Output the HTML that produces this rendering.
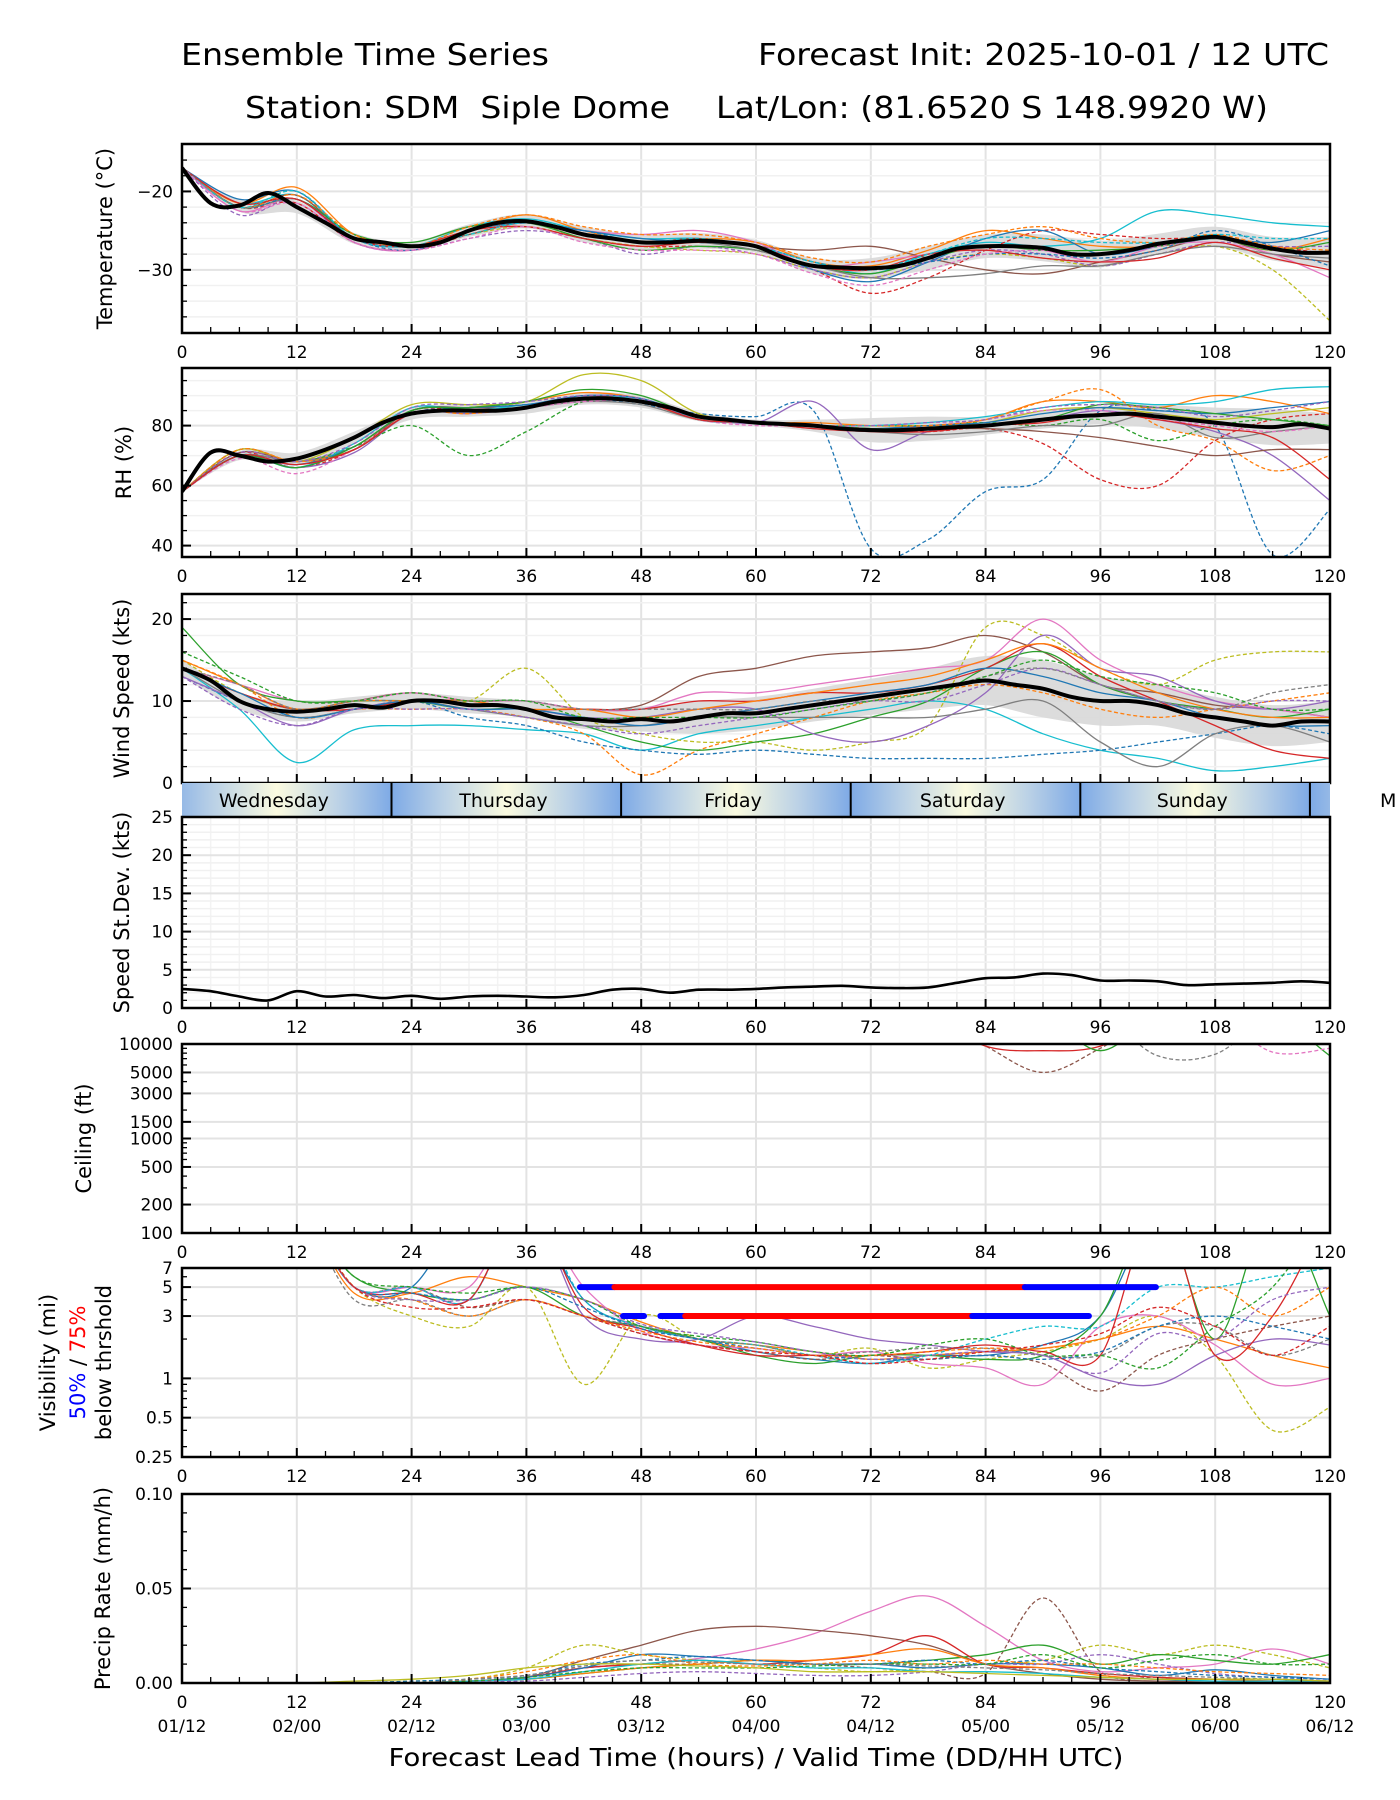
<!DOCTYPE html>
<html><head><meta charset="utf-8"><title>Ensemble Time Series SDM</title>
<style>
html,body{margin:0;padding:0;background:#fff;}
svg{display:block;font-family:"DejaVu Sans","Liberation Sans",sans-serif;}
</style></head>
<body>
<svg id="chart" xmlns="http://www.w3.org/2000/svg" width="1400" height="1800" viewBox="0 0 1400 1800">
<defs>
<linearGradient id="dayGrad" x1="0" x2="1" y1="0" y2="0">
<stop offset="0" stop-color="#7eaae6"/><stop offset="0.22" stop-color="#b9d0e6"/><stop offset="0.5" stop-color="#fbfbe0"/><stop offset="0.78" stop-color="#b9d0e6"/><stop offset="1" stop-color="#7eaae6"/>
</linearGradient>
</defs>
<text x="181" y="65" font-size="30" textLength="368" lengthAdjust="spacingAndGlyphs">Ensemble Time Series</text>
<text x="758" y="65" font-size="30" textLength="571" lengthAdjust="spacingAndGlyphs">Forecast Init: 2025-10-01 / 12 UTC</text>
<text x="245" y="118" font-size="30" textLength="425" lengthAdjust="spacingAndGlyphs" xml:space="preserve">Station: SDM  Siple Dome</text>
<text x="716" y="118" font-size="30" textLength="552" lengthAdjust="spacingAndGlyphs">Lat/Lon: (81.6520 S 148.9920 W)</text>
<text x="756" y="1766" font-size="25" text-anchor="middle" textLength="735" lengthAdjust="spacingAndGlyphs">Forecast Lead Time (hours) / Valid Time (DD/HH UTC)</text>
<g id="plots"></g>
</svg>
<script>
// ---------- DATA ----------
const hours3 = [0,3,6,9,12,15,18,21,24,27,30,33,36,39,42,45,48,51,54,57,60,63,66,69,72,75,78,81,84,87,90,93,96,99,102,105,108,111,114,117,120];
const hours6 = [0,6,12,18,24,30,36,42,48,54,60,66,72,78,84,90,96,102,108,114,120];
const xTickLabels = ['0','12','24','36','48','60','72','84','96','108','120'];
const dateLabels = ['01/12','02/00','02/12','03/00','03/12','04/00','04/12','05/00','05/12','06/00','06/12'];
const dayNames = ['Wednesday','Thursday','Friday','Saturday','Sunday','M'];
const dayBoundaries = [21.9,45.9,69.9,93.9,117.9];

const tempMean = [-17,-21.5,-21.8,-20.2,-22,-24,-26,-26.5,-27,-26.5,-25,-24,-23.8,-24.5,-25.5,-26,-26.5,-26.5,-26.3,-26.5,-27,-28.5,-29.5,-29.7,-29.8,-29.5,-28.5,-27.3,-27,-27,-27.2,-28,-28,-27.5,-26.7,-26.2,-25.8,-26.5,-27.3,-27.8,-27.8];
const tempSpread = [0,0.8,0.8,0.7,0.6,0.8,0.9,1,1,1,0.8,1,1.3,1.5,1.5,1.7,1.7,1.3,1.3,1.5,2];
const tempMembers = [
[-17,-21.5,-20.5,-26,-27,-24.5,-23.5,-25,-26,-26,-27,-29,-30.5,-28,-26.5,-27,-26,-22.5,-23,-24,-24.5],
[-17,-22,-21.5,-26.5,-27.5,-25.5,-24,-26,-27,-27,-27.5,-30,-33,-31,-27.5,-25,-25.5,-26,-26,-27,-28],
[-17,-21.5,-19.5,-25.5,-27,-25,-23,-25,-26.5,-26,-26.5,-29,-29.5,-27.5,-25,-26,-27,-27,-26,-27.5,-26],
[-17,-22,-20.5,-26,-27,-25.5,-24,-25.5,-26.5,-26,-27,-27.5,-27,-28.5,-30,-30.5,-29,-27.5,-26,-28,-29],
[-17,-22.5,-21,-26.5,-27.5,-25,-24,-25,-25.5,-25,-26.5,-29.5,-29,-28,-27,-27.5,-29,-27,-26.5,-28,-31],
[-17,-22,-20,-26,-27,-25.5,-24.5,-26,-27,-27.5,-28,-30,-31,-29,-28,-28.5,-29.5,-28,-27,-30,-36.5],
[-17,-21,-20,-26,-27,-25,-24,-25,-26,-26.5,-27,-30,-31.5,-29,-26,-25,-28,-27,-26,-26.5,-25],
[-17,-23,-21,-26.5,-27.5,-26,-25,-26,-28,-27,-28,-30,-31,-29,-27.5,-28,-29.5,-28,-26.5,-27,-27],
[-17,-22,-21,-25.5,-26.5,-24.5,-24,-26,-27.5,-27,-27.5,-29.5,-30.5,-28.5,-27,-27.5,-27.5,-27,-26,-27.5,-26.5],
[-17,-22,-21,-26,-27,-25,-24,-25.5,-26.5,-26.5,-27.5,-29.5,-31,-31,-30.5,-29.5,-29.5,-28,-27,-28,-28.5],
[-17,-22,-21,-26,-27.5,-25,-24,-25,-26.5,-26.5,-27,-29,-30,-29,-28,-28,-28.5,-27.5,-25,-27,-29.5],
[-17,-22,-20.5,-25.5,-27,-24.5,-23,-24.5,-25.5,-25.5,-26.5,-28.5,-29,-27,-25.5,-24.5,-26,-26.5,-25.5,-27,-27.5],
[-17,-21.5,-21,-26,-27,-25,-24.5,-26,-27,-26.5,-27,-29.5,-30,-28,-27.5,-28.5,-29,-28.5,-26.5,-28.5,-30],
[-17,-22,-20,-26,-27,-25.5,-24,-25.5,-26.5,-26,-27,-29,-30,-28,-26,-26,-26.5,-26.5,-25.5,-26,-26],
[-17,-22.5,-21.5,-26.5,-27.5,-26,-24.5,-26.5,-27.5,-27.5,-28,-30.5,-32,-30,-28,-27.5,-28,-27,-26,-27.5,-28]
];
const tempColors = ['#17becf','#d62728','#ff7f0e','#8c564b','#e377c2','#bcbd22','#1f77b4','#9467bd','#2ca02c','#7f7f7f','#1f77b4','#ff7f0e','#d62728','#17becf','#e377c2'];
const tempDashed = [false,true,false,false,false,true,false,true,false,false,true,true,false,true,true];

const rhMean = [58,71,70,68,69,72,76,81,84,85,85,85,86,88,89,89,88,86,83,82,81,80.5,80,79,78.5,78.5,79,79.5,80,81,82,83,83.5,84,83,82,81,80,79.5,80.5,79];
const rhSpread = [0,1.5,2,2,2,2,2,2,2,1.5,1,2,4,4,3,3,3,4,5,6,5];
const rhMembers = [
[58,70,68,72,84,86,87,89,87,84,83,85,39,42,58,62,85,85,80,37,52],
[58,71,66,72,85,85,86,89,88,82,81,80,79,78,79,74,62,60,75,82,84],
[58,72,68,73,85,86,88,91,89,83,81,81,80,80,82,88,88,86,90,88,84],
[58,70,66,71,84,84,86,90,88,83,81,88,72,78,80,82,85,82,78,70,55],
[58,72,68,76,87,87,88,97,95,84,81,80,80,80,81,85,86,84,82,84,86],
[58,72,68,73,80,70,78,88,88,82,81,80,80,80,81,80,82,75,80,82,80],
[58,71,68,72,85,86,86,90,88,83,81,80,79,79,79,78,76,73,70,72,72],
[58,70,66,74,86,85,87,89,89,82,81,80,80,81,83,86,88,87,88,92,93],
[58,70,68,72,84,85,86,88,87,82,81,79,78,77,78,80,80,84,76,78,80],
[58,69,64,72,84,85,86,88,88,82,80,80,79,80,82,85,85,82,80,78,80],
[58,70,67,73,85,86,87,90,89,83,81,80,79,80,81,84,86,85,84,86,88],
[58,72,68,72,84,84,86,89,88,82,81,80,80,80,82,88,92,80,75,65,70],
[58,70,66,73,85,86,88,92,90,83,81,80,79,79,80,82,87,86,84,82,80],
[58,71,68,74,86,87,88,90,89,82,81,80,80,81,82,86,87,86,83,85,88],
[58,70,67,72,84,85,86,89,88,82,81,79,78,78,80,81,84,82,79,76,62]
];
const rhColors = ['#1f77b4','#d62728','#ff7f0e','#9467bd','#bcbd22','#2ca02c','#8c564b','#17becf','#7f7f7f','#e377c2','#1f77b4','#ff7f0e','#2ca02c','#9467bd','#d62728'];
const rhDashed = [true,true,false,false,false,true,false,false,false,true,false,true,false,true,false];

const windMean = [14,12.5,10,9,8.7,9,9.5,9.2,10,10,9.5,9.5,9,8,7.8,7.5,7.8,7.5,8,8.5,8.5,9,9.5,10,10.5,11,11.5,12,12.5,12,11.5,10.5,10,10,9.5,8.5,8,7.5,7,7.5,7.5];
const windSpread = [1,1,1.2,1,1,1,1,1.2,1.5,2,2,2,2.2,2.5,3,3.5,3,2.5,2.5,2.5,2.5];
const windMembers = [
[14,9,2.5,6.5,7,7,6.5,6,4,6,7,8,9,10,9,6,4,3,1.5,2,3],
[14,11,9,10,11,10,10,9,9.5,13,14,15.5,16,16.5,18,16,12,11,9.5,9,8],
[15,11,9,9,10,10,14,8,6,5,5,4,5,7,19,18,14,12,15,16,16],
[13,10,8,9,10,8,7,5,4,3.5,4,3.5,3,3,3,3.5,4,5,6,7,6],
[14,12,10,10,11,10,10,9,9,11,11,12,13,14,15,20,15,12,10,9,8],
[15,12,8,9,9,9,8,6,1,4,6,8,10,11,12,11,9,8,9,10,11],
[19,12,10,10,10,9,9,7,5,4,5,6,8,10,14,16,12,10,9,8,9],
[13,10,7,9,10,9,9,8,8,9,9,6,5,7,11,18,14,13,10,9,10],
[14,10,8,9,10,9,8,7,7,8,8,8,8,8,9,10,5,2,6,7,5],
[14,11,9,9,10,10,9,9,9,10,10,11,11,12,14,17,13,10,7,4,3],
[14,11,8,9,10,9,9,8,7,8,9,10,11,12,14,13,11,10,8,7,7],
[15,12,9,10,10,10,9,9,8,9,10,11,12,13,15,17,14,11,9,8,8],
[13,9,7,9,9,9,8,7,6,7,8,9,10,10,12,14,12,10,9,10,10],
[14,12,9,10,10,10,10,9,9,9,9,10,10,11,13,14,12,10,9,11,12],
[16,13,10,10,11,10,10,8,8,8,8,9,10,11,13,15,13,12,11,9,9]
];
const windColors = ['#17becf','#8c564b','#bcbd22','#1f77b4','#e377c2','#ff7f0e','#2ca02c','#9467bd','#7f7f7f','#d62728','#1f77b4','#ff7f0e','#9467bd','#7f7f7f','#2ca02c'];
const windDashed = [false,false,true,true,false,true,false,false,false,false,false,false,true,true,true];

const sdValues = [2.5,2.2,1.5,1.0,2.2,1.5,1.7,1.3,1.6,1.2,1.5,1.6,1.5,1.4,1.7,2.4,2.5,2.0,2.4,2.4,2.5,2.7,2.8,2.9,2.7,2.6,2.7,3.3,3.9,4.0,4.5,4.3,3.6,3.6,3.5,3.0,3.1,3.2,3.3,3.5,3.3];

const ceilMembers = [
[20000,20000,20000,20000,20000,20000,20000,20000,20000,20000,20000,20000,20000,20000,9500,5000,9000,20000,20000,20000,20000],
[20000,20000,20000,20000,20000,20000,20000,20000,20000,20000,20000,20000,20000,20000,9500,8500,9500,20000,20000,20000,20000],
[20000,20000,20000,20000,20000,20000,20000,20000,20000,20000,20000,20000,20000,20000,20000,20000,8500,20000,20000,20000,7500],
[20000,20000,20000,20000,20000,20000,20000,20000,20000,20000,20000,20000,20000,20000,20000,20000,20000,7500,7800,20000,20000],
[20000,20000,20000,20000,20000,20000,20000,20000,20000,20000,20000,20000,20000,20000,20000,20000,20000,20000,20000,8200,9000]
];
const ceilColors = ['#8c564b','#d62728','#2ca02c','#7f7f7f','#e377c2'];
const ceilDashed = [true,false,false,true,true];
const ceilTicks = [100,200,500,1000,1500,3000,5000,10000];

const visMembers = [
[20,20,20,5,5,20,20,4,2.5,2,1.6,1.4,1.3,1.5,1.5,1.8,3,20,20,20,20],
[20,20,20,4.5,4.5,6,5,4,2.7,2,1.8,1.6,1.4,1.5,1.6,1.7,2,2.5,2,1.5,1.2],
[20,20,20,5,3,2.5,5,0.9,3,2,1.8,1.5,1.7,1.2,1.4,1.6,2,3,1.5,0.4,0.6],
[20,20,20,5,5,5,20,5,2.3,1.8,1.7,1.5,1.6,1.3,1.2,0.9,2.5,3,1.8,0.9,1],
[20,20,20,6,4.5,4,5,3,2.5,2,1.5,1.3,1.5,1.5,1.4,1.5,3,20,2,20,3],
[20,20,20,5,5,3.5,4,3,2.2,1.8,1.6,1.4,1.5,1.4,1.5,1.3,0.8,1.5,2,2.5,3],
[20,20,20,5,5,4,20,3,2,2,3,2.5,2,1.8,1.6,1.5,1,0.9,1.5,2,1.8],
[20,20,20,5,5,4,20,4,2.5,2,1.8,1.5,1.3,1.5,2,2.5,2.5,5,5,6,7],
[20,20,20,4,4,3,4,3,2.5,2,1.8,1.5,1.6,1.7,1.7,1.5,1.5,2.5,2.5,1.5,2],
[20,20,20,5,4.5,4,20,3.5,2.4,1.8,1.5,1.5,1.5,1.6,1.8,1.6,1.5,20,1.5,3,20],
[20,20,20,5,4.5,4,5,3.5,2.4,2,1.7,1.5,1.4,1.4,1.5,1.4,1.6,2.5,3,2.5,2],
[20,20,20,5,4,3,4,3,2.3,1.9,1.7,1.5,1.5,1.6,1.7,1.7,2,3,5,3,5],
[20,20,20,6,5,4.5,5,4,2.5,2.1,1.9,1.6,1.5,1.8,2,1.5,1.5,1.2,2.5,5,20],
[20,20,20,5,4,4,5,4,2.6,2.2,1.9,1.6,1.4,1.5,1.6,1.5,1.1,2.2,2,4,5],
[20,20,20,5,3.5,3.5,4,3,2.2,1.8,1.6,1.5,1.3,1.4,1.6,1.8,2.2,3.5,2.5,1.5,2.5]
];
const visColors = ['#1f77b4','#ff7f0e','#bcbd22','#e377c2','#2ca02c','#8c564b','#9467bd','#17becf','#7f7f7f','#d62728','#1f77b4','#ff7f0e','#2ca02c','#9467bd','#d62728'];
const visDashed = [false,false,true,false,false,true,false,true,true,false,true,true,true,true,true];
const visTicks = [0.25,0.5,1,3,5,7];
const visThr5Start = [41.6,45.2,88.1];
const visThr5End = [45.2,88.1,101.8];
const visThr5Color = ['#0000ff','#ff0000','#0000ff'];
const visThr3Start = [46.1,50.0,52.6,82.6];
const visThr3End = [48.3,52.6,82.6,94.8];
const visThr3Color = ['#0000ff','#0000ff','#ff0000','#0000ff'];

const precipMembers = [
[0,0,0,0,0,0.001,0.003,0.008,0.01,0.013,0.018,0.026,0.038,0.046,0.03,0.012,0.006,0.008,0.01,0.018,0.01],
[0,0,0,0,0,0.002,0.004,0.008,0.01,0.01,0.012,0.01,0.008,0.006,0.005,0.045,0.006,0.003,0.002,0.002,0.001],
[0,0,0,0,0,0.001,0.003,0.012,0.02,0.028,0.03,0.028,0.025,0.02,0.01,0.005,0.002,0.001,0.001,0,0],
[0,0,0,0,0.001,0.002,0.008,0.02,0.015,0.012,0.01,0.008,0.006,0.008,0.01,0.012,0.02,0.015,0.02,0.015,0.008],
[0,0,0,0,0,0.001,0.002,0.005,0.008,0.01,0.012,0.01,0.01,0.012,0.015,0.02,0.01,0.015,0.012,0.01,0.015],
[0,0,0,0,0,0.001,0.003,0.008,0.01,0.012,0.01,0.012,0.015,0.025,0.01,0.008,0.005,0.003,0.002,0.001,0.001],
[0,0,0,0,0,0.001,0.003,0.008,0.015,0.014,0.012,0.01,0.01,0.008,0.01,0.01,0.008,0.004,0.007,0.004,0.002],
[0,0,0,0,0,0.001,0.002,0.005,0.008,0.01,0.012,0.012,0.015,0.018,0.01,0.008,0.004,0.002,0.002,0.001,0.001],
[0,0,0,0,0,0.001,0.002,0.006,0.01,0.012,0.01,0.008,0.008,0.006,0.006,0.005,0.003,0.002,0.001,0.001,0.001],
[0,0,0,0,0,0.001,0.001,0.003,0.005,0.006,0.005,0.004,0.004,0.006,0.01,0.01,0.015,0.01,0.005,0.003,0.002],
[0,0,0,0,0.001,0.002,0.004,0.01,0.012,0.014,0.012,0.01,0.01,0.012,0.01,0.012,0.008,0.006,0.004,0.003,0.002],
[0,0,0,0,0,0.002,0.006,0.012,0.015,0.01,0.009,0.01,0.012,0.01,0.012,0.01,0.01,0.008,0.006,0.005,0.004],
[0,0,0,0,0,0.001,0.003,0.006,0.008,0.008,0.008,0.009,0.01,0.01,0.01,0.015,0.008,0.012,0.015,0.01,0.01],
[0,0,0,0,0,0.002,0.004,0.009,0.012,0.011,0.01,0.01,0.01,0.009,0.008,0.007,0.005,0.004,0.003,0.002,0.001],
[0,0,0,0.001,0.002,0.004,0.008,0.01,0.01,0.009,0.008,0.006,0.006,0.006,0.005,0.004,0.003,0.002,0.002,0.002,0.001]
];
const precipColors = ['#e377c2','#8c564b','#8c564b','#bcbd22','#2ca02c','#d62728','#1f77b4','#ff7f0e','#17becf','#9467bd','#1f77b4','#ff7f0e','#2ca02c','#7f7f7f','#bcbd22'];
const precipDashed = [false,true,false,true,false,false,false,false,false,true,true,true,true,true,false];

// ---------- LAYOUT ----------
const NS = 'http://www.w3.org/2000/svg';
const X0 = 182, X1 = 1330;
const xScale = h => X0 + (X1 - X0) * h / 120;
const root = document.getElementById('plots');

function el(tag, attrs, parent) {
  const e = document.createElementNS(NS, tag);
  for (const k in attrs) e.setAttribute(k, attrs[k]);
  (parent || root).appendChild(e);
  return e;
}
function smoothPath(pts) {
  if (pts.length < 2) return '';
  let d = 'M' + pts[0][0].toFixed(1) + ',' + pts[0][1].toFixed(1);
  for (let i = 0; i < pts.length - 1; i++) {
    const p0 = pts[i - 1] || pts[i], p1 = pts[i], p2 = pts[i + 1], p3 = pts[i + 2] || p2;
    const c1x = p1[0] + (p2[0] - p0[0]) / 6, c1y = p1[1] + (p2[1] - p0[1]) / 6;
    const c2x = p2[0] - (p3[0] - p1[0]) / 6, c2y = p2[1] - (p3[1] - p1[1]) / 6;
    d += 'C' + c1x.toFixed(1) + ',' + c1y.toFixed(1) + ' ' + c2x.toFixed(1) + ',' + c2y.toFixed(1) + ' ' + p2[0].toFixed(1) + ',' + p2[1].toFixed(1);
  }
  return d;
}
function makePanel(id, top, bot, min, max, log) {
  const p = {id, top, bot, min, max, log};
  p.y = v => {
    if (log) {
      const a = Math.log10(min), b = Math.log10(max);
      return bot - (Math.log10(v) - a) / (b - a) * (bot - top);
    }
    return bot - (v - min) / (max - min) * (bot - top);
  };
  const cp = el('clipPath', {id: 'clip-' + id});
  el('rect', {x: X0, y: top, width: X1 - X0, height: bot - top}, cp);
  p.g = el('g', {'clip-path': 'url(#clip-' + id + ')'});
  
  
  return p;
}
function grid(p, yMajor, yMinor) {
  for (let h = 0; h <= 120; h += 12) {
    const l = el('line', {x1: xScale(h), x2: xScale(h), y1: p.top, y2: p.bot, stroke: '#e3e3e3', 'stroke-width': 2}, p.g);
    
    
  }
  (yMinor || []).forEach(v => {
    const l = el('line', {x1: X0, x2: X1, y1: p.y(v), y2: p.y(v), stroke: '#f1f1f1', 'stroke-width': 1.5}, p.g);
    
    
  });
  yMajor.forEach(v => {
    const l = el('line', {x1: X0, x2: X1, y1: p.y(v), y2: p.y(v), stroke: '#e3e3e3', 'stroke-width': 2}, p.g);
    
    
  });
}
function frame(p, yTicks, yLabels, yMinorTicks, xLabels) {
  const f = el('rect', {x: X0, y: p.top, width: X1 - X0, height: p.bot - p.top, fill: 'none', stroke: '#000', 'stroke-width': 2.5});
  
  
  for (let h = 0; h <= 120; h += 3) {
    const major = h % 12 === 0;
    const t = el('line', {x1: xScale(h), x2: xScale(h), y1: p.bot, y2: p.bot - (major ? 9 : 6), stroke: '#000', 'stroke-width': major ? 2 : 1.3});
    
    
  }
  if (xLabels) {
    xTickLabels.forEach((s, i) => {
      const t = el('text', {x: xScale(i * 12), y: p.bot + 25, 'font-size': 17, 'text-anchor': 'middle'});
      t.textContent = s;
      
      
    });
  }
  (yMinorTicks || []).forEach(v => {
    const t = el('line', {x1: X0, x2: X0 + 5, y1: p.y(v), y2: p.y(v), stroke: '#000', 'stroke-width': 1.3});
    
    
  });
  yTicks.forEach((v, i) => {
    const t = el('line', {x1: X0, x2: X0 + 9, y1: p.y(v), y2: p.y(v), stroke: '#000', 'stroke-width': 2});
    
    
    const lbl = el('text', {x: X0 - 9, y: p.y(v) + 6, 'font-size': 17, 'text-anchor': 'end'});
    lbl.textContent = yLabels[i];
    
    
  });
}
function yTitle(text, x, p, name) {
  const cy = (p.top + p.bot) / 2;
  const t = el('text', {x: x, y: cy, 'font-size': 21, 'text-anchor': 'middle', transform: 'rotate(-90 ' + x + ' ' + cy + ')', 'dominant-baseline': 'middle'});
  t.textContent = text;
  
  
  return t;
}
function drawMembers(p, members, colors, dashed, hrs, nameBase) {
  members.forEach((m, i) => {
    const pts = m.map((v, j) => [xScale(hrs[j]), p.y(v)]);
    const path = el('path', {d: smoothPath(pts), fill: 'none', stroke: colors[i % colors.length], 'stroke-width': 1.3, 'stroke-dasharray': dashed[i % dashed.length] ? '4,2.5' : 'none'}, p.g);
    
    
  });
}
function drawBand(p, mean3, spread6) {
  const upper = [], lower = [];
  hours6.forEach((h, j) => {
    const m = mean3[j * 2];
    upper.push([xScale(h), p.y(m + spread6[j])]);
    lower.push([xScale(h), p.y(m - spread6[j])]);
  });
  const d = smoothPath(upper) + 'L' + smoothPath(lower.slice().reverse()).slice(1) + 'Z';
  const b = el('path', {d: d, fill: '#d8d8d8', stroke: 'none', opacity: 0.9}, p.g);
  
  
}
function drawMean(p, mean3, width) {
  const pts = mean3.map((v, j) => [xScale(hours3[j]), p.y(v)]);
  const m = el('path', {d: smoothPath(pts), fill: 'none', stroke: '#000', 'stroke-width': width, 'stroke-linejoin': 'round'}, p.g);
  
  
}
function range(a, b, s) { const r = []; for (let v = a; v <= b + 1e-9; v += s) r.push(+v.toFixed(4)); return r; }

// ---------- TEMPERATURE ----------
const pT = makePanel('temperature', 144, 333, -38.06, -13.95, false);
grid(pT, [-20, -30], range(-36, -14, 2));
drawBand(pT, tempMean, tempSpread);
drawMembers(pT, tempMembers, tempColors, tempDashed, hours6, 'temperature');
drawMean(pT, tempMean, 4);
frame(pT, [-20, -30], ['\u221220', '\u221230'], range(-36, -16, 2), true);
yTitle('Temperature (\u00b0C)', 106, pT, 'temperature-axis-title');

// ---------- RH ----------
const pR = makePanel('rh', 368, 557, 36.2, 99.2, false);
grid(pR, [40, 60, 80], range(40, 95, 5));
drawBand(pR, rhMean, rhSpread);
drawMembers(pR, rhMembers, rhColors, rhDashed, hours6, 'rh');
drawMean(pR, rhMean, 4);
frame(pR, [40, 60, 80], ['40', '60', '80'], range(40, 95, 5), true);
yTitle('RH (%)', 125, pR, 'rh-axis-title');

// ---------- WIND ----------
const pW = makePanel('wind', 594, 783, 0, 23.06, false);
grid(pW, [0, 10, 20], range(2, 22, 2));
drawBand(pW, windMean, windSpread);
drawMembers(pW, windMembers, windColors, windDashed, hours6, 'wind');
drawMean(pW, windMean, 4);
frame(pW, [0, 10, 20], ['0', '10', '20'], range(2, 22, 2), false);
yTitle('Wind Speed (kts)', 123, pW, 'wind-axis-title');

// ---------- DAY BAR ----------
(function () {
  const top = 783, bot = 817;
  const cp = el('clipPath', {id: 'clip-daybar'});
  el('rect', {x: X0, y: top, width: X1 - X0, height: bot - top}, cp);
  const g = el('g', {'clip-path': 'url(#clip-daybar)'});
  
  
  const starts = [dayBoundaries[0] - 24].concat(dayBoundaries);
  starts.forEach((s, i) => {
    const r = el('rect', {x: xScale(s), y: top, width: xScale(s + 24) - xScale(s), height: bot - top, fill: 'url(#dayGrad)'}, g);
    
    
  });
  dayBoundaries.forEach(b => {
    const l = el('line', {x1: xScale(b), x2: xScale(b), y1: top, y2: bot, stroke: '#000', 'stroke-width': 2}, g);
    
    
  });
  dayNames.forEach((n, i) => {
    const c = starts[i] + 12 - 0.3;
    const t = el('text', {x: xScale(c), y: 807, 'font-size': 19, 'text-anchor': i === dayNames.length - 1 ? 'start' : 'middle'});
    if (i === dayNames.length - 1) t.setAttribute('x', 1380);
    t.textContent = n;
    
    
  });
})();

// ---------- SPEED ST DEV ----------
const pS = makePanel('speed-stdev', 817, 1008, 0, 25, false);
for (let h = 3; h < 120; h += 3) {
  const l = el('line', {x1: xScale(h), x2: xScale(h), y1: pS.top, y2: pS.bot, stroke: '#f3f3f3', 'stroke-width': 1.5}, pS.g);
  
  
}
grid(pS, [0, 5, 10, 15, 20, 25], range(1, 24, 1));
drawMean(pS, sdValues, 2.6);
frame(pS, [0, 5, 10, 15, 20, 25], ['0', '5', '10', '15', '20', '25'], range(1, 24, 1), true);
yTitle('Speed St.Dev. (kts)', 123, pS, 'stdev-axis-title');

// ---------- CEILING ----------
const pC = makePanel('ceiling', 1044, 1233, 100, 10000, true);
grid(pC, ceilTicks, []);
drawMembers(pC, ceilMembers, ceilColors, ceilDashed, hours6, 'ceiling');
const ceilMinor = [];
[100, 1000].forEach(d => { for (let k = 2; k <= 9; k++) ceilMinor.push(d * k); });
frame(pC, ceilTicks, ceilTicks.map(String), ceilMinor, true);
yTitle('Ceiling (ft)', 85, pC, 'ceiling-axis-title');

// ---------- VISIBILITY ----------
const pV = makePanel('visibility', 1268, 1457, 0.25, 7, true);
grid(pV, visTicks, []);
drawMembers(pV, visMembers, visColors, visDashed, hours6, 'visibility');
visThr5Start.forEach((s, i) => {
  const l = el('line', {x1: xScale(s), x2: xScale(visThr5End[i]), y1: pV.y(5), y2: pV.y(5), stroke: visThr5Color[i], 'stroke-width': 6, 'stroke-linecap': 'round'}, pV.g);
  
  
});
visThr3Start.forEach((s, i) => {
  const l = el('line', {x1: xScale(s), x2: xScale(visThr3End[i]), y1: pV.y(3), y2: pV.y(3), stroke: visThr3Color[i], 'stroke-width': 6, 'stroke-linecap': 'round'}, pV.g);
  
  
});
frame(pV, visTicks, ['0.25', '0.5', '1', '3', '5', '7'], [0.3, 0.4, 0.6, 0.7, 0.8, 0.9, 2, 4, 6], true);
yTitle('Visibility (mi)', 49, pV, 'visibility-axis-title');
(function () {
  const cy = (pV.top + pV.bot) / 2;
  const t = el('text', {x: 79, y: cy, 'font-size': 21, 'text-anchor': 'middle', transform: 'rotate(-90 79 ' + cy + ')', 'dominant-baseline': 'middle'});
  
  
  const a = el('tspan', {fill: '#0000ff'}, t); a.textContent = '50%';
  const b = el('tspan', {fill: '#000'}, t); b.textContent = ' / ';
  const c = el('tspan', {fill: '#ff0000'}, t); c.textContent = '75%';
})();
yTitle('below thrshold', 105, pV, 'visibility-threshold-title');

// ---------- PRECIP ----------
const pP = makePanel('precip', 1494, 1683, 0, 0.1, false);
grid(pP, [0, 0.05, 0.1], []);
drawMembers(pP, precipMembers, precipColors, precipDashed, hours6, 'precip');
frame(pP, [0, 0.05, 0.1], ['0.00', '0.05', '0.10'], range(0.01, 0.09, 0.01), true);
yTitle('Precip Rate (mm/h)', 104, pP, 'precip-axis-title');
dateLabels.forEach((s, i) => {
  const t = el('text', {x: xScale(i * 12), y: 1732, 'font-size': 17, 'text-anchor': 'middle'});
  t.textContent = s;
  
  
});
</script>
</body></html>
